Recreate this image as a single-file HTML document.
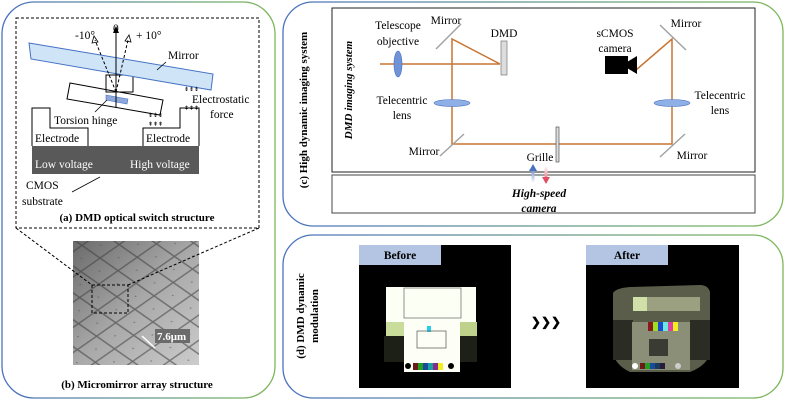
<!DOCTYPE html>
<html><head><meta charset="utf-8"><style>
html,body{margin:0;padding:0;background:#fff;width:785px;height:402px;overflow:hidden}
svg text{font-family:"Liberation Serif",serif;fill:#000}
</style></head><body>
<svg width="785" height="402" viewBox="0 0 785 402" xmlns="http://www.w3.org/2000/svg">
<defs>
<linearGradient id="bg1" x1="0" y1="0" x2="1" y2="0"><stop offset="0" stop-color="#4a72c0"/><stop offset="1" stop-color="#7db85a"/></linearGradient>
<linearGradient id="sem" x1="0" y1="0" x2="1" y2="1"><stop offset="0" stop-color="#6a6a6a"/><stop offset="0.5" stop-color="#a8a8a8"/><stop offset="1" stop-color="#cccccc"/></linearGradient>
<pattern id="grid" width="22" height="22" patternUnits="userSpaceOnUse" patternTransform="rotate(35) skewX(-20)">
<rect width="22" height="22" fill="none" stroke="#3c3c3c" stroke-width="1.4"/><circle cx="11" cy="11" r="0.8" fill="#555"/></pattern>
<linearGradient id="ub" gradientUnits="userSpaceOnUse" x1="0" y1="183" x2="0" y2="166"><stop offset="0" stop-color="#fff"/><stop offset="1" stop-color="#4a72c0"/></linearGradient>
<linearGradient id="ur" gradientUnits="userSpaceOnUse" x1="0" y1="166" x2="0" y2="183"><stop offset="0" stop-color="#fff"/><stop offset="1" stop-color="#e05060"/></linearGradient>
</defs>

<rect x="2" y="2" width="273" height="396" rx="32" fill="none" stroke="url(#bg1)" stroke-width="1.3"/>
<rect x="283" y="2" width="500" height="224" rx="30" fill="none" stroke="url(#bg1)" stroke-width="1.3"/>
<rect x="283" y="235" width="500" height="163" rx="30" fill="none" stroke="url(#bg1)" stroke-width="1.3"/>

<!-- panel a -->
<rect x="16" y="18" width="243" height="210" fill="none" stroke="#000" stroke-dasharray="3,2" stroke-width="1"/>
<polygon points="32,146 199,146 199,174 32,174" fill="#595959"/>
<polyline points="32,146 32,108 50,108 50,128 88,128 88,146" fill="#fff" stroke="#000"/>
<polyline points="143,146 143,128 180,128 180,108 199,108 199,146" fill="#fff" stroke="#000"/>
<polygon points="70,83 163,100 160,115 67,99" fill="#fff" stroke="#000"/>
<rect x="106" y="75" width="27" height="17" fill="none" stroke="#000"/>
<polygon points="29,43 213,74 211,90 31,59" fill="#cfe4f7" stroke="#4472c4"/>
<polygon points="106,95 128,99 127,104 106,100" fill="#8fa8dc" stroke="#4472c4" stroke-width="0.6"/>
<line x1="116" y1="108" x2="116" y2="30" stroke="#000"/>
<polygon points="113,33 116,26 119,33" fill="#000"/>
<line x1="116" y1="92" x2="95" y2="40" stroke="#000" stroke-dasharray="3,2"/>
<polygon points="92,43 94,36 98,42" fill="none" stroke="#000" stroke-width="0.8"/>
<line x1="116" y1="92" x2="128" y2="40" stroke="#000" stroke-dasharray="3,2"/>
<polygon points="125,41 129,35 131,42" fill="none" stroke="#000" stroke-width="0.8"/>
<line x1="95" y1="112" x2="107" y2="100" stroke="#000" stroke-width="0.8"/>
<line x1="157" y1="70" x2="166" y2="62" stroke="#000" stroke-width="0.8"/>
<line x1="72" y1="192" x2="100" y2="177" stroke="#000" stroke-width="0.8"/>
<text x="148" y="117" font-size="6">⇟⇟⇟</text><text x="148" y="126" font-size="6">⇞⇞⇞</text>
<text x="184" y="91" font-size="6">⇟⇟⇟</text><text x="184" y="110" font-size="6">⇞⇞⇞</text>
<g font-size="11.5">
<text x="75" y="39">-10°</text><text x="113" y="32">0</text><text x="136" y="39">+ 10°</text>
<text x="168" y="59">Mirror</text>
<text x="192" y="103">Electrostatic</text><text x="210" y="118">force</text>
<text x="54" y="124">Torsion hinge</text>
<text x="35" y="142">Electrode</text><text x="146" y="142">Electrode</text>
<text x="35" y="168" style="fill:#fff">Low voltage</text><text x="130" y="168" style="fill:#fff">High voltage</text>
<text x="26" y="189">CMOS</text><text x="22" y="205">substrate</text>
</g>
<text x="137" y="221" font-size="11" font-weight="bold" text-anchor="middle">(a) DMD optical switch structure</text>

<!-- panel b -->
<rect x="73" y="241" width="126" height="124" fill="url(#sem)"/>
<rect x="73" y="241" width="126" height="124" fill="url(#grid)" opacity="0.6"/>
<line x1="16" y1="228" x2="92" y2="285" stroke="#000" stroke-dasharray="3,2"/>
<line x1="259" y1="228" x2="128" y2="285" stroke="#000" stroke-dasharray="3,2"/>
<rect x="92" y="285" width="36" height="28" fill="none" stroke="#000" stroke-dasharray="3,2"/>
<rect x="155" y="329" width="35" height="14" fill="#6b6b6b"/>
<text x="157" y="340" font-size="11" font-weight="bold" style="fill:#fff">7.6μm</text>
<line x1="142" y1="336" x2="155" y2="348" stroke="#fff" stroke-width="1.5"/>
<text x="137" y="388" font-size="11" font-weight="bold" text-anchor="middle">(b) Micromirror array structure</text>

<!-- panel c -->
<text transform="translate(307,110) rotate(-90)" font-size="11" font-weight="bold" text-anchor="middle">(c) High dynamic imaging system</text>
<rect x="332" y="8" width="423" height="164" fill="none" stroke="#222"/>
<rect x="332" y="175" width="423" height="38" fill="none" stroke="#444"/>
<text transform="translate(352,90) rotate(-90)" font-size="11" font-weight="bold" font-style="italic" text-anchor="middle">DMD imaging system</text>
<g stroke="#c87533" stroke-width="1.5" fill="none">
<line x1="380" y1="64" x2="500" y2="64"/>
<polyline points="500,64 452,39 452,144 672,144 672,39 636,70"/>
</g>
<g stroke="#a0a0a0" stroke-width="1.4">
<line x1="436" y1="49" x2="461" y2="24"/>
<line x1="440" y1="156" x2="464" y2="134"/>
<line x1="660" y1="25" x2="686" y2="50"/>
<line x1="660" y1="157" x2="685" y2="134"/>
</g>
<ellipse cx="398" cy="64" rx="4" ry="13" fill="#6f93d6" stroke="#4a70c0" stroke-width="0.6"/>
<ellipse cx="452" cy="103" rx="18" ry="3.5" fill="#8fb0e6" stroke="#4a70c0" stroke-width="0.6"/>
<ellipse cx="672" cy="103" rx="18" ry="3.5" fill="#8fb0e6" stroke="#4a70c0" stroke-width="0.6"/>
<rect x="501" y="41" width="6" height="34" fill="#ddd" stroke="#777" stroke-width="0.7"/>
<rect x="556" y="127" width="3" height="35" fill="#ddd" stroke="#555" stroke-width="0.7"/>
<rect x="605" y="56" width="23" height="18" fill="#000"/><polygon points="627,62 637,56 637,74 627,68" fill="#000"/>
<rect x="531.5" y="169" width="3" height="14" fill="url(#ub)"/>
<polygon points="529,171 533,164 537,171" fill="#4a72c0"/>
<rect x="544.5" y="166" width="3" height="12" fill="url(#ur)"/>
<polygon points="542,177 546,184 550,177" fill="#e05060"/>
<g font-size="11.5">
<text x="398" y="29" text-anchor="middle">Telescope</text><text x="398" y="45" text-anchor="middle">objective</text>
<text x="446" y="24" text-anchor="middle">Mirror</text>
<text x="504" y="37" text-anchor="middle">DMD</text>
<text x="615" y="37" text-anchor="middle">sCMOS</text><text x="615" y="52" text-anchor="middle">camera</text>
<text x="686" y="27" text-anchor="middle">Mirror</text>
<text x="402" y="104" text-anchor="middle">Telecentric</text><text x="402" y="119" text-anchor="middle">lens</text>
<text x="720" y="99" text-anchor="middle">Telecentric</text><text x="720" y="114" text-anchor="middle">lens</text>
<text x="424" y="155" text-anchor="middle">Mirror</text>
<text x="692" y="159" text-anchor="middle">Mirror</text>
<text x="540" y="161" text-anchor="middle">Grille</text>
<text x="539" y="197" text-anchor="middle" font-weight="bold" font-style="italic">High-speed</text>
<text x="539" y="212" text-anchor="middle" font-weight="bold" font-style="italic">camera</text>
</g>

<!-- panel d -->
<text transform="translate(304,316) rotate(-90)" font-size="11" font-weight="bold" text-anchor="middle">(d) DMD dynamic</text>
<text transform="translate(318,316) rotate(-90)" font-size="11" font-weight="bold" text-anchor="middle">modulation</text>
<!-- before -->
<rect x="359" y="245" width="152" height="143" fill="#000"/>
<rect x="384" y="336" width="20" height="26" fill="#1c2016"/>
<rect x="459" y="336" width="18" height="26" fill="#1c2016"/>
<rect x="386" y="287" width="90" height="36" fill="#fbfff4"/>
<rect x="386" y="322" width="18" height="14" fill="#c9dc9a"/>
<rect x="459" y="322" width="18" height="14" fill="#bfd28c"/>
<rect x="404" y="320" width="56" height="52" fill="#fdfff6"/>
<rect x="404" y="288" width="57" height="30" fill="none" stroke="#777" stroke-width="0.8"/>
<rect x="427" y="326" width="4" height="6" fill="#22d0ee"/>
<rect x="417" y="331" width="29" height="17" fill="none" stroke="#666" stroke-width="0.8"/>
<g><rect x="413" y="363" width="5" height="7" fill="#6b1a1a"/><rect x="418" y="363" width="5" height="7" fill="#22a022"/><rect x="423" y="363" width="5" height="7" fill="#1a4a9a"/><rect x="428" y="363" width="5" height="7" fill="#1aa0a0"/><rect x="433" y="363" width="5" height="7" fill="#8a2a8a"/><rect x="438" y="363" width="5" height="7" fill="#f0f020"/></g>
<circle cx="408" cy="366" r="3" fill="#000"/><circle cx="451" cy="366" r="3" fill="#000"/>
<rect x="359" y="245" width="82" height="20" fill="#b4c5e4"/>
<text x="400" y="259" font-size="11.5" font-weight="bold" text-anchor="middle">Before</text>
<!-- after -->
<rect x="586" y="245" width="153" height="143" fill="#000"/>
<path d="M613,293 Q616,288 630,287 L700,285 Q708,285 710,292 L710,352 Q708,365 690,372 L630,372 Q615,365 613,352 Z" fill="#5a5d4a"/>
<rect x="633" y="297" width="67" height="14" fill="#9aa080"/>
<rect x="633" y="297" width="14" height="14" fill="#cfe0a8"/>
<rect x="613" y="320" width="20" height="40" fill="#2b2d24"/>
<rect x="690" y="320" width="20" height="40" fill="#2b2d24"/>
<rect x="632" y="322" width="58" height="48" fill="#8c8f78"/>
<rect x="648" y="322" width="5" height="9" fill="#8a1a1a"/><rect x="653" y="322" width="5" height="9" fill="#9ae020"/><rect x="658" y="322" width="5" height="9" fill="#1a4ad0"/><rect x="663" y="322" width="5" height="9" fill="#6ae8e0"/><rect x="668" y="322" width="5" height="9" fill="#e040a0"/><rect x="673" y="322" width="5" height="9" fill="#f0f020"/>
<rect x="649" y="339" width="19" height="17" fill="#3a3c33"/>
<g><rect x="640" y="363" width="5" height="6" fill="#6b1a1a"/><rect x="645" y="363" width="5" height="6" fill="#22a022"/><rect x="650" y="363" width="5" height="6" fill="#1a4a9a"/><rect x="655" y="363" width="5" height="6" fill="#1a3a5a"/><rect x="660" y="363" width="5" height="6" fill="#2a1a3a"/></g>
<circle cx="635" cy="366" r="3" fill="#fff"/><circle cx="678" cy="366" r="3" fill="#ccc"/>
<rect x="586" y="245" width="82" height="20" fill="#b4c5e4"/>
<text x="627" y="259" font-size="11.5" font-weight="bold" text-anchor="middle">After</text>
<text x="546" y="326" font-size="12" font-weight="bold" text-anchor="middle" font-family="DejaVu Sans">❯❯❯</text>
</svg>
</body></html>
